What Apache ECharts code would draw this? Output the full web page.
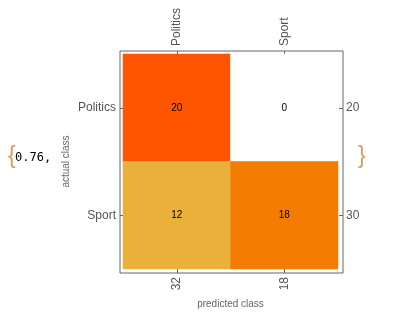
<!DOCTYPE html>
<html>
<head>
<meta charset="utf-8">
<script src="https://cdn.jsdelivr.net/npm/echarts@6/dist/echarts.min.js"></script>
<style>
  html, body { margin: 0; padding: 0; background: #fff; }
  #chart { width: 394px; height: 326px; }
</style>
</head>
<body>
<div id="chart"></div>
<script>
// Confusion matrix: rows = actual class, columns = predicted class
var classes = ['Politics', 'Sport'];
var matrix = [
  [20, 0],   // actual Politics
  [12, 18]   // actual Sport
];

// Row totals (right axis) and column totals (bottom axis)
var rowTotals = matrix.map(function (r) { return r[0] + r[1]; });
var colTotals = classes.map(function (_, j) {
  return matrix.reduce(function (s, r) { return s + r[j]; }, 0);
});
var total = rowTotals.reduce(function (a, b) { return a + b; }, 0);
var accuracy = (matrix[0][0] + matrix[1][1]) / total;

// Heatmap points: [predictedIndex, actualIndex, count]
var cells = [];
matrix.forEach(function (row, i) {
  row.forEach(function (v, j) { cells.push([j, i, v]); });
});

var labelFont = 'Liberation Sans, Arial, Helvetica, sans-serif';
var tickGray = '#555';
var frameGray = '#666';

var chart = echarts.init(document.getElementById('chart'), null, { renderer: 'canvas' });

chart.setOption({
  animation: false,
  backgroundColor: '#fff',
  grid: [
    // cell area
    { left: 123, top: 54, width: 215, height: 215, show: false },
    // surrounding frame
    { left: 120, top: 51, width: 223, height: 222, show: true,
      borderColor: frameGray, borderWidth: 1, backgroundColor: 'transparent' }
  ],
  xAxis: [
    {
      gridIndex: 0, type: 'category', position: 'top', data: classes,
      offset: 3,
      axisLine: { show: false },
      axisTick: { show: true, inside: true, alignWithLabel: true, length: 4,
                  lineStyle: { color: frameGray } },
      axisLabel: { rotate: -90, margin: 5, fontSize: 12, color: tickGray, fontFamily: labelFont },
      splitLine: { show: false }
    },
    {
      gridIndex: 0, type: 'category', position: 'bottom',
      data: colTotals.map(String),
      offset: 4,
      axisLine: { show: false },
      axisTick: { show: true, inside: true, alignWithLabel: true, length: 4,
                  lineStyle: { color: frameGray } },
      axisLabel: { rotate: 90, margin: 4, fontSize: 12, color: tickGray, fontFamily: labelFont },
      name: 'predicted class', nameLocation: 'middle', nameGap: 26,
      nameTextStyle: { fontSize: 10, color: '#666', fontFamily: labelFont },
      splitLine: { show: false }
    },
    { gridIndex: 1, type: 'value', show: false, min: 0, max: 1 }
  ],
  yAxis: [
    {
      gridIndex: 0, type: 'category', position: 'left', data: classes, inverse: true,
      offset: 3,
      axisLine: { show: false },
      axisTick: { show: true, inside: true, alignWithLabel: true, length: 4,
                  lineStyle: { color: frameGray } },
      axisLabel: { margin: 4, fontSize: 12, color: tickGray, fontFamily: labelFont },
      name: 'actual class', nameLocation: 'middle', nameGap: 49, nameRotate: 90,
      nameMoveOverlap: false,
      nameTextStyle: { fontSize: 10, color: '#666', fontFamily: labelFont },
      splitLine: { show: false }
    },
    {
      gridIndex: 0, type: 'category', position: 'right',
      data: rowTotals.map(String), inverse: true,
      offset: 5,
      axisLine: { show: false },
      axisTick: { show: true, inside: true, alignWithLabel: true, length: 4,
                  lineStyle: { color: frameGray } },
      axisLabel: { margin: 3, fontSize: 12, color: tickGray, fontFamily: labelFont },
      splitLine: { show: false }
    },
    { gridIndex: 1, type: 'value', show: false, min: 0, max: 1 }
  ],
  visualMap: {
    show: false,
    type: 'piecewise',
    dimension: 2,
    seriesIndex: 0,
    pieces: [
      { value: 0, color: '#ffffff' },
      { value: 12, color: '#e9b03a' },
      { value: 18, color: '#f47c00' },
      { value: 20, color: '#ff5500' }
    ]
  },
  series: [{
    type: 'heatmap',
    xAxisIndex: 0,
    yAxisIndex: 0,
    data: cells,
    label: {
      show: true,
      color: '#000',
      fontSize: 10,
      fontFamily: labelFont,
      formatter: function (p) { return String(p.value[2]); }
    },
    itemStyle: { borderWidth: 0 },
    emphasis: { disabled: true }
  }],
  graphic: [
    {
      type: 'text', left: 8, top: 145,
      style: { text: '{', fontSize: 23, fontFamily: 'Liberation Sans, Arial, sans-serif',
               fontWeight: 'lighter', fill: '#dd9a5c' }
    },
    {
      type: 'text', left: 15, top: 152,
      style: { text: accuracy.toFixed(2) + ',', fontSize: 12,
               fontFamily: 'DejaVu Sans Mono, monospace', fill: '#000' }
    },
    {
      type: 'text', left: 358, top: 145,
      style: { text: '}', fontSize: 23, fontFamily: 'Liberation Sans, Arial, sans-serif',
               fontWeight: 'lighter', fill: '#dd9a5c' }
    }
  ]
});
</script>
</body>
</html>
